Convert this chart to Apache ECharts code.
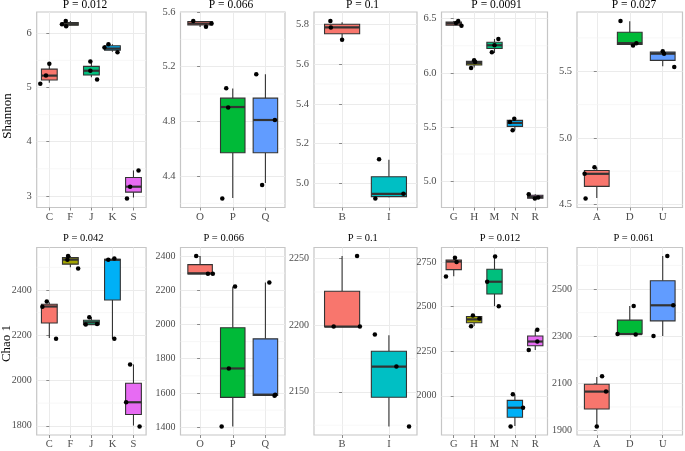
<!DOCTYPE html>
<html><head><meta charset="utf-8">
<script src="https://cdn.jsdelivr.net/npm/echarts@6/dist/echarts.min.js"></script>
<style>html,body{margin:0;padding:0;background:#fff}#c{width:685px;height:451px}</style>
</head><body><div id="c"></div>
<script>
// ---------------- DATA ----------------
const cats1 = ['C','F','J','K','S'];
const cats2 = ['O','P','Q'];
const cats3 = ['B','I'];
const cats4 = ['G','H','M','N','R'];
const cats5 = ['A','D','U'];

const pal5 = ['#F8766D','#A3A500','#00BF7D','#00B0F6','#E76BF3'];
const pal3 = ['#F8766D','#00BA38','#619CFF'];
const pal2 = ['#F8766D','#00BFC4'];

const shannonTitle = 'Shannon';
const chaoTitle = 'Chao 1';
const shannonP = ['P = 0.012','P = 0.066','P = 0.1','P = 0.0091','P = 0.027'];
const chaoP = ['P = 0.042','P = 0.066','P = 0.1','P = 0.012','P = 0.061'];

// y tick labels
const yTicks1 = ['3','4','5','6'];
const yTicks2 = ['4.4','4.8','5.2','5.6'];
const yTicks3 = ['5.0','5.2','5.4','5.6','5.8'];
const yTicks4 = ['5.0','5.5','6.0','6.5'];
const yTicks5 = ['4.5','5.0','5.5'];
const yTicks6 = ['1800','2000','2200','2400'];
const yTicks7 = ['1400','1600','1800','2000','2200','2400'];
const yTicks8 = ['2150','2200','2250'];
const yTicks9 = ['2000','2250','2500','2750'];
const yTicks10 = ['1900','2100','2300','2500'];

// box stats: [lower whisker, Q1, median, Q3, upper whisker]
const box1 = [[5.09,5.14,5.22,5.34,5.44],[6.14,6.15,6.17,6.20,6.23],[5.19,5.23,5.31,5.39,5.48],[5.66,5.69,5.72,5.77,5.80],[2.97,3.07,3.17,3.34,3.47]];
const pts1 = [[5.44,5.22,5.07],[6.23,6.17,6.13],[5.48,5.31,5.15],[5.80,5.74,5.65],[3.47,3.17,2.95]];
const jit1 = [[0,-0.16,-0.43],[-0.22,-0.4,-0.2],[-0.05,-0.05,0.27],[-0.19,-0.38,0.24],[0.24,-0.16,-0.31]];

const box2 = [[5.49,5.505,5.515,5.53,5.535],[4.24,4.57,4.905,4.97,5.04],[4.35,4.57,4.81,4.97,5.145]];
const pts2 = [[5.534,5.493,5.515],[5.043,4.902,4.235],[5.145,4.335,4.81]];
const jit2 = [[-0.21,0.18,0.35],[-0.2,-0.14,-0.32],[-0.28,-0.1,0.29]];

const box3 = [[5.722,5.752,5.784,5.80,5.81],[4.93,4.933,4.947,5.033,5.119]];
const pts3 = [[5.817,5.784,5.722],[5.121,4.923,4.947]];
const jit3 = [[-0.25,-0.24,0],[-0.21,-0.29,0.31]];

const box4 = [[6.44,6.441,6.457,6.469,6.48],[6.05,6.072,6.09,6.106,6.117],[6.184,6.225,6.255,6.283,6.313],[5.47,5.505,5.537,5.561,5.575],[4.838,4.841,4.853,4.869,4.878]];
const pts4 = [[6.46,6.478,6.436],[6.117,6.10,6.044],[6.313,6.255,6.19],[5.576,5.546,5.469],[4.878,4.838,4.848]];
const jit4 = [[0.11,0.22,0.38],[0,0.05,-0.15],[0.19,0,-0.13],[-0.03,-0.24,-0.11],[-0.32,-0.02,0.14]];

const box5 = [[4.55,4.637,4.731,4.756,4.778],[5.70,5.701,5.711,5.793,5.875],[5.537,5.582,5.632,5.644,5.66]];
const pts5 = [[4.781,4.731,4.545],[5.878,5.694,5.711],[5.651,5.632,5.532]];
const jit5 = [[-0.07,-0.37,-0.34],[-0.28,0.1,0.2],[0,0.04,0.35]];

const box6 = [[2188,2254,2327,2337,2346],[2500,2514,2534,2543,2550],[2247,2247,2257,2266,2280],[2184,2356,2533,2536,2539],[1801,1850,1904,1988,2071]];
const pts6 = [[2349,2326,2185],[2550,2534,2495],[2279,2248,2250],[2539,2533,2184],[2071,1904,1797]];
const jit6 = [[-0.12,-0.33,0.32],[-0.11,-0.14,0.37],[-0.1,-0.27,0.27],[0.09,-0.2,0.09],[-0.16,-0.35,0.29]];

const box7 = [[2295,2295,2299,2350,2400],[1404,1574,1743,1981,2220],[1586,1586,1590,1916,2245]];
const pts7 = [[2400,2297,2297],[2222,1743,1404],[2245,1590,1584]];
const jit7 = [[-0.12,0.24,0.39],[0.07,-0.12,-0.34],[0.12,0.3,0.28]];

const box8 = [[2199,2199,2199,2225.5,2252],[2124,2146,2169,2180.5,2192.5]];
const pts8 = [[2252,2199,2199],[2193,2169,2124]];
const jit8 = [[0.32,-0.18,0.38],[-0.3,0.16,0.43]];

const box9 = [[2670,2707,2752,2761,2774],[2391,2409,2428,2444,2450],[2502,2570,2639,2709,2783],[1830,1880,1933,1974,2006],[2256,2280,2304,2335,2370]];
const pts9 = [[2774,2750,2668],[2450,2433,2389],[2781,2639,2502],[2009,1933,1828],[2370,2304,2256]];
const jit9 = [[0.06,0.14,-0.38],[-0.06,0.26,-0.15],[0.03,-0.36,0.21],[-0.1,0.4,-0.21],[0.1,0.1,-0.32]];

const box10 = [[1917,1991,2065,2096,2127],[2309,2309,2309,2368,2428],[2301,2365,2431,2535,2640]];
const pts10 = [[2130,2065,1917],[2428,2309,2307],[2640,2431,2301]];
const jit10 = [[0.16,0.28,0],[0.12,-0.37,0.18],[0.14,0.32,-0.28]];

// ---------------- LAYOUT / STYLE ----------------
const FONT = '"Liberation Serif", "Times New Roman", serif';
const panels = [
  {cats:cats1, box:box1, pts:pts1, jit:jit1, ticks:yTicks1, p:shannonP[0], pal:pal5},
  {cats:cats2, box:box2, pts:pts2, jit:jit2, ticks:yTicks2, p:shannonP[1], pal:pal3},
  {cats:cats3, box:box3, pts:pts3, jit:jit3, ticks:yTicks3, p:shannonP[2], pal:pal2},
  {cats:cats4, box:box4, pts:pts4, jit:jit4, ticks:yTicks4, p:shannonP[3], pal:pal5},
  {cats:cats5, box:box5, pts:pts5, jit:jit5, ticks:yTicks5, p:shannonP[4], pal:pal3},
  {cats:cats1, box:box6, pts:pts6, jit:jit6, ticks:yTicks6, p:chaoP[0], pal:pal5},
  {cats:cats2, box:box7, pts:pts7, jit:jit7, ticks:yTicks7, p:chaoP[1], pal:pal3},
  {cats:cats3, box:box8, pts:pts8, jit:jit8, ticks:yTicks8, p:chaoP[2], pal:pal2},
  {cats:cats4, box:box9, pts:pts9, jit:jit9, ticks:yTicks9, p:chaoP[3], pal:pal5},
  {cats:cats5, box:box10, pts:pts10, jit:jit10, ticks:yTicks10, p:chaoP[4], pal:pal3}
];
const colLeft = [36.7, 180.5, 314, 441.5, 577];
const colWidth = [109.4, 104.5, 103, 106, 105.5];
const rowTop = [12, 247.5];
const rowHeight = [195.5, 187.5];
const titleX = [[85,231,362.5,496.5,634],[83.3,223.7,362.8,500,633.7]];
const titleY = [5, 238.5];
const tickFont = [10.5, 10];
const titleFont = [11.5, 10.5];

const option = {animation:false, grid:[], xAxis:[], yAxis:[], series:[], graphic:[]};

panels.forEach((pn, i) => {
  const r = Math.floor(i / 5), c = i % 5;
  const n = pn.cats.length;
  let lo = Infinity, hi = -Infinity;
  pn.box.forEach(b => { lo = Math.min(lo, b[0]); hi = Math.max(hi, b[4]); });
  pn.pts.forEach(a => a.forEach(v => { lo = Math.min(lo, v); hi = Math.max(hi, v); }));
  const pad = (hi - lo) * 0.05;
  const ymin = lo - pad, ymax = hi + pad;
  const tickVals = pn.ticks.map(Number);
  const idx = pn.cats.map((_, k) => k);
  const step = tickVals[1] - tickVals[0];
  const minors = [];
  for (let v = tickVals[0] - step / 2; v <= ymax; v += step) if (v >= ymin) minors.push(v);

  option.grid.push({left:colLeft[c], top:rowTop[r], width:colWidth[c], height:rowHeight[r],
    show:true, borderColor:'#c6c6c6', borderWidth:1.2, backgroundColor:'#fff', z:0});
  option.xAxis.push({gridIndex:i, type:'value', min:-0.6, max:n - 0.4,
    axisLine:{show:false},
    axisTick:{show:true, length:3, customValues:idx, lineStyle:{color:'#8a8a8a', width:1}},
    axisLabel:{customValues:idx, formatter:v => pn.cats[Math.round(v)] || '', color:'#4d4d4d',
      fontFamily:FONT, fontSize:tickFont[r] + 0.5, margin:4},
    splitLine:{show:true, lineStyle:{color:'#ebebeb', width:1}}});
  option.yAxis.push({gridIndex:i, type:'value', min:ymin, max:ymax,
    axisLine:{show:false},
    axisTick:{show:true, length:3, customValues:tickVals, lineStyle:{color:'#8a8a8a', width:1}},
    axisLabel:{customValues:tickVals, formatter:v => {
        const k = tickVals.findIndex(t => Math.abs(t - v) < 1e-9); return k >= 0 ? pn.ticks[k] : ''; },
      color:'#4d4d4d', fontFamily:FONT, fontSize:tickFont[r], margin:5},
    splitLine:{show:true, lineStyle:{color:'#ebebeb', width:1}}});

  // minor gridlines
  option.series.push({type:'custom', xAxisIndex:i, yAxisIndex:i, z:1, silent:true,
    encode:{x:0, y:1}, data:minors.map(v => [0, v]),
    renderItem:(params, api) => {
      const y = api.coord([0, api.value(1)])[1];
      const cs = params.coordSys;
      return {type:'line', shape:{x1:cs.x, y1:y, x2:cs.x + cs.width, y2:y},
        style:{stroke:'#f3f3f3', lineWidth:0.7}};
    }});

  // boxes
  option.series.push({type:'custom', xAxisIndex:i, yAxisIndex:i, z:3, silent:true,
    encode:{x:0, y:[1,2,3,4,5]},
    data:pn.box.map((b, k) => [k].concat(b)),
    renderItem:(params, api) => {
      const x = api.value(0);
      const P = d => api.coord([x, api.value(d)]);
      const wl = P(1), q1 = P(2), md = P(3), q3 = P(4), wh = P(5);
      const hw = api.size([0.75, 0])[0] / 2;
      const col = pn.pal[params.dataIndex];
      return {type:'group', children:[
        {type:'line', shape:{x1:wl[0], y1:wl[1], x2:q1[0], y2:q1[1]}, style:{stroke:'#333', lineWidth:1.1}},
        {type:'line', shape:{x1:q3[0], y1:q3[1], x2:wh[0], y2:wh[1]}, style:{stroke:'#333', lineWidth:1.1}},
        {type:'rect', shape:{x:q3[0] - hw, y:q3[1], width:2 * hw, height:Math.max(q1[1] - q3[1], 0)},
          style:{fill:col, stroke:'#333', lineWidth:1.1}},
        {type:'line', shape:{x1:md[0] - hw, y1:md[1], x2:md[0] + hw, y2:md[1]}, style:{stroke:'#333', lineWidth:2.2}}
      ]};
    }});

  // jittered points
  const sd = [];
  pn.pts.forEach((arr, k) => arr.forEach((v, j) => sd.push([k + pn.jit[k][j], v])));
  option.series.push({type:'scatter', xAxisIndex:i, yAxisIndex:i, z:5, silent:true,
    symbolSize:4.5, itemStyle:{color:'#000', opacity:1}, data:sd});

  option.graphic.push({type:'text', x:titleX[r][c], y:titleY[r], z:10,
    style:{text:pn.p, align:'center', verticalAlign:'middle', textAlign:'center', textVerticalAlign:'middle',
      fill:'#000', fontFamily:FONT, fontSize:titleFont[r]}});
});

option.graphic.push({type:'text', x:7.7, y:116, rotation:Math.PI / 2, z:10,
  style:{text:shannonTitle, align:'center', verticalAlign:'middle', textAlign:'center', textVerticalAlign:'middle',
    fill:'#000', fontFamily:FONT, fontSize:13}});
option.graphic.push({type:'text', x:6.5, y:343.5, rotation:Math.PI / 2, z:10,
  style:{text:chaoTitle, align:'center', verticalAlign:'middle', textAlign:'center', textVerticalAlign:'middle',
    fill:'#000', fontFamily:FONT, fontSize:13}});

const chart = echarts.init(document.getElementById('c'), null, {renderer:'canvas'});
chart.setOption(option);
</script></body></html>
